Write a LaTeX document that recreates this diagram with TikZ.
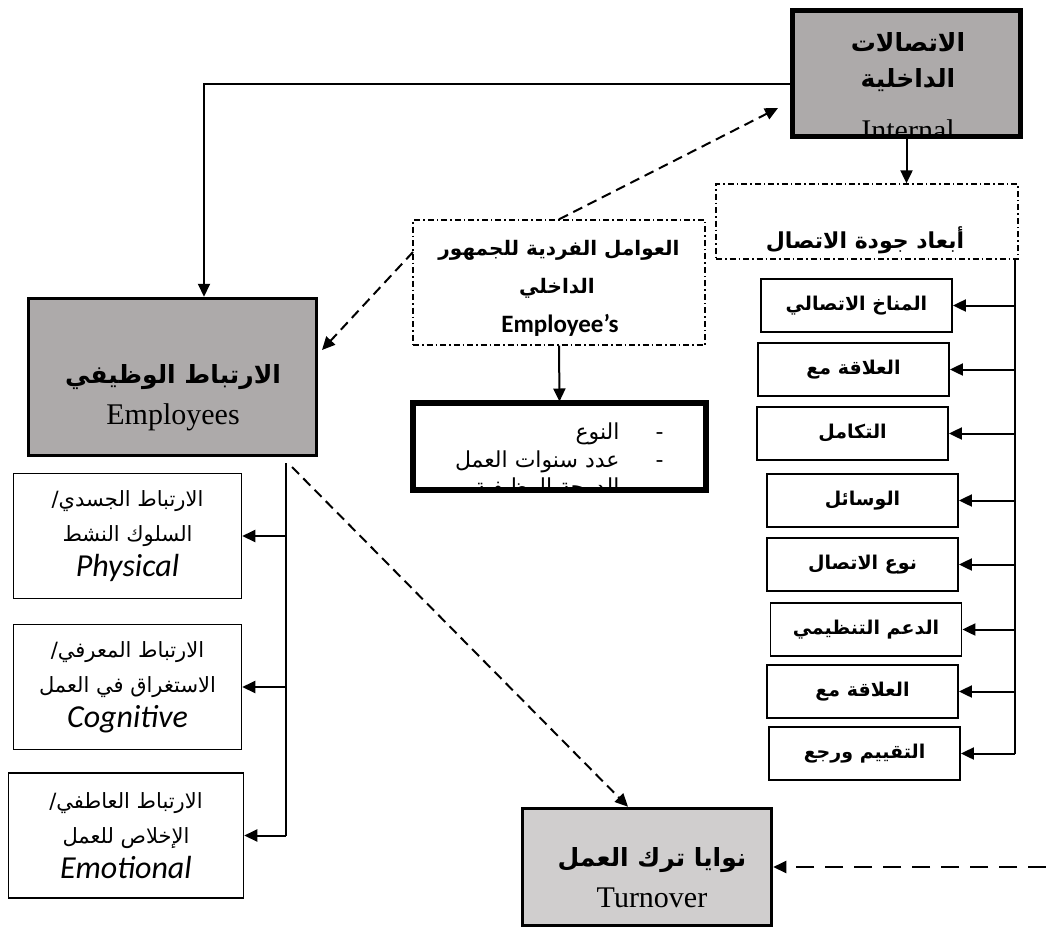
\documentclass[tikz,border=0pt]{standalone}
\usepackage{fontspec}
\setmainfont{Liberation Serif}
\newfontfamily\arabicfont[Script=Arabic]{DejaVu Sans}
\newfontfamily\calibrifont{Carlito}
\TeXXeTstate=1
\usetikzlibrary{arrows.meta, positioning}

\definecolor{boxgrey}{RGB}{173,170,170}
\definecolor{palegrey}{RGB}{208,206,206}

\newcommand{\artxt}[1]{{\arabicfont\beginR #1\endR}}
\newcommand{\arbf}[1]{{\arabicfont\bfseries\beginR #1\endR}}

\tikzset{
  greybox/.style={draw, line width=3.5pt, fill=boxgrey},
  dimbox/.style={draw, line width=1.8pt, minimum width=191pt, minimum height=53pt, inner sep=0pt, font=\fontsize{19}{23}\selectfont},
  jobbox/.style={draw, line width=1.5pt, minimum width=228pt, minimum height=125pt, inner sep=0pt, align=center, font=\fontsize{21}{35}\selectfont},
  dashdotbox/.style={draw, line width=1.3pt, dash pattern=on 6pt off 3pt on 1.5pt off 3pt},
  arr/.style={line width=2pt, -{Triangle[length=13pt,width=12pt]}},
  dasharr/.style={arr, dash pattern=on 10pt off 6pt},
  bigar/.style={font=\fontsize{25}{30}\selectfont},
  bigen/.style={font=\fontsize{30}{34}\selectfont},
  listtext/.style={anchor=east, font=\fontsize{22}{26}\selectfont},
}

\begin{document}
\begin{tikzpicture}[x=1pt, y=-1pt]
  \useasboundingbox (0,0) rectangle (1046,929);

  % internal communication
  \node[greybox, minimum width=226pt, minimum height=124pt] (comm) at (906.5,73.5) {};
  \begin{scope}
    \clip (comm.south west) rectangle (comm.north east);
    \node[bigar] (comm1) at (908,42) {\arbf{الاتصالات}};
    \node[bigar] (comm2) at (908,80) {\arbf{الداخلية}};
    \node[bigen] (comm3) at (908,130) {Internal};
  \end{scope}
  \draw[line width=3.5pt] (comm.south west) rectangle (comm.north east);

  % engagement
  \node[greybox, minimum width=288pt, minimum height=157pt] (emp) at (172.5,377) {};
  \node[bigar] (emp1) at (173,377) {\arbf{الارتباط الوظيفي}};
  \node[bigen] (emp2) at (173,417) {Employees};

  % turnover
  \node[greybox, fill=palegrey, minimum width=249pt, minimum height=117pt] (turn) at (647,867) {};
  \node[bigar] (turn1) at (652,860) {\arbf{نوايا ترك العمل}};
  \node[bigen] (turn2) at (652,898) {Turnover};

  % individual factors
  \node[dashdotbox, minimum width=292pt, minimum height=125pt] (indiv) at (559,282.5) {};
  \node[font=\fontsize{20}{25}\selectfont] (indiv1) at (559,250) {\arbf{العوامل الفردية للجمهور}};
  \node[font=\fontsize{20}{25}\selectfont] (indiv2) at (557,288) {\arbf{الداخلي}};
  \node[font=\calibrifont\bfseries\fontsize{25}{30}\selectfont] (indiv3) at (560,325) {Employee’s};

  \node[draw, line width=4pt, minimum width=291pt, minimum height=85pt] (list) at (559.5,446) {};
  \begin{scope}
    \clip (list.south west) rectangle (list.north east);
    \node[listtext] (list1) at (667,434) {\artxt{-\hspace{36pt}النوع}};
    \node[listtext] (list2) at (667,462) {\artxt{-\hspace{36pt}عدد سنوات العمل}};
    \node[listtext] (list3) at (667,489) {\artxt{-\hspace{36pt}الدرجة الوظيفية}};
  \end{scope}
  \draw[line width=4pt] (list.south west) rectangle (list.north east);

  % quality dimensions
  \node[dashdotbox, minimum width=302pt, minimum height=75pt] (dim) at (867,221.5) {};
  \node[font=\fontsize{22}{26}\selectfont] (dimtitle) at (865,240) {\arbf{أبعاد جودة الاتصال}};

  \node[dimbox] (climate) at (856.5,305.5) {\arbf{المناخ الاتصالي}};
  \node[dimbox] (rela)    at (853.5,369.5) {\arbf{العلاقة مع}};
  \node[dimbox] (integ)   at (852.5,433.5) {\arbf{التكامل}};
  \node[dimbox] (media)   at (862.5,500.5) {\arbf{الوسائل}};
  \node[dimbox] (ctype)   at (862.5,564.5) {\arbf{نوع الاتصال}};
  \node[dimbox] (support) at (866,629.5)   {\arbf{الدعم التنظيمي}};
  \node[dimbox] (relb)    at (862.5,691.5) {\arbf{العلاقة مع}};
  \node[dimbox] (feedb)   at (864.5,753.5) {\arbf{التقييم ورجع}};

  % engagement types
  \node[jobbox] (phys) at (127.5,536) {\artxt{الارتباط الجسدي/}\\\artxt{السلوك النشط}\\{\calibrifont\itshape\fontsize{32}{35}\selectfont Physical}};
  \node[jobbox] (cogn) at (127.5,687) {\artxt{الارتباط المعرفي/}\\\artxt{الاستغراق في العمل}\\{\calibrifont\itshape\fontsize{32}{35}\selectfont Cognitive}};
  \node[jobbox, minimum width=235pt] (emot) at (126,835.5) {\artxt{الارتباط العاطفي/}\\\artxt{الإخلاص للعمل}\\{\calibrifont\itshape\fontsize{32}{35}\selectfont Emotional}};

  % connectors
  \coordinate (dimspine) at (1015,259);
  \coordinate (empspine) at (286,463);
  \coordinate (rightedge) at (1046,0);
  \coordinate (commin) at (778,108);
  \coordinate (indivout) at (413,252);
  \coordinate (empin) at (322,350);
  \coordinate (empout) at (292,467);

  \draw[arr] ([yshift=-10pt]comm.west) -| ([xshift=31.5pt]emp.north);
  \draw[arr] (comm.south) -- (comm.south |- dim.north);
  \draw[arr] (indiv.south) -- (list.north);
  \draw[dasharr] (indiv.north) -- (commin);
  \draw[dasharr] (indivout) -- (empin);
  \draw[dasharr] (empout) -- (turn.north -| 628,0);
  \draw[arr, dash pattern=on 18pt off 11pt] (turn.east -| rightedge) -- (turn.east);

  \draw[line width=2pt] (dimspine) -- (dimspine |- feedb.east);
  \draw[arr] (dimspine |- feedb.east) -- (feedb.east);
  \draw[arr] (dimspine |- climate.east) -- (climate.east);
  \draw[arr] (dimspine |- rela.east) -- (rela.east);
  \draw[arr] (dimspine |- integ.east) -- (integ.east);
  \draw[arr] (dimspine |- media.east) -- (media.east);
  \draw[arr] (dimspine |- ctype.east) -- (ctype.east);
  \draw[arr] (dimspine |- support.east) -- (support.east);
  \draw[arr] (dimspine |- relb.east) -- (relb.east);

  \draw[line width=2pt] (empspine) -- (empspine |- emot.east);
  \draw[arr] (empspine |- emot.east) -- (emot.east);
  \draw[arr] (empspine |- phys.east) -- (phys.east);
  \draw[arr] (empspine |- cogn.east) -- (cogn.east);
\end{tikzpicture}
\end{document}
